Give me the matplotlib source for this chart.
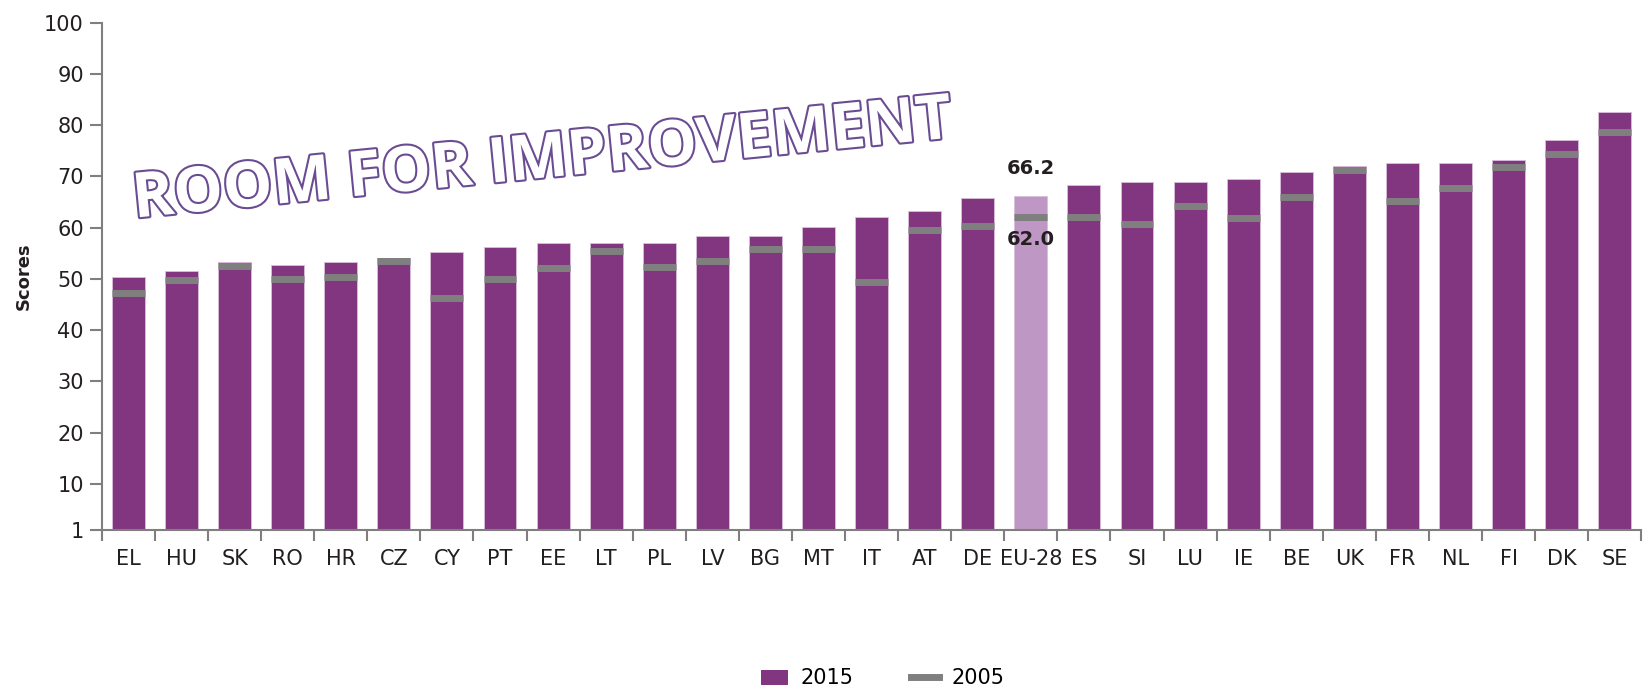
import matplotlib
matplotlib.use("Agg")
import matplotlib.pyplot as plt
import matplotlib.patheffects as pe
from matplotlib.lines import Line2D
from matplotlib.patches import Patch
import numpy as np

plt.rcParams['font.family'] = ['Liberation Sans Narrow', 'DejaVu Sans']

countries = ["EL", "HU", "SK", "RO", "HR", "CZ", "CY", "PT", "EE", "LT", "PL", "LV", "BG", "MT",
             "IT", "AT", "DE", "EU-28", "ES", "SI", "LU", "IE", "BE", "UK", "FR", "NL", "FI", "DK", "SE"]
score_2015 = [50.3, 51.6, 53.3, 52.7, 53.3, 54.0, 55.3, 56.3, 57.0, 57.1, 57.1, 58.3, 58.3, 60.1,
              62.0, 63.3, 65.8, 66.2, 68.3, 68.9, 68.9, 69.6, 70.8, 72.1, 72.7, 72.7, 73.3, 77.1, 82.6]
score_2005 = [47.2, 49.7, 52.6, 50.0, 50.3, 53.4, 46.2, 50.0, 52.2, 55.5, 52.4, 53.5, 55.9, 55.9,
              49.3, 59.6, 60.3, 62.0, 62.1, 60.8, 64.3, 61.8, 65.9, 71.2, 65.2, 67.7, 71.8, 74.4, 78.7]
yticks = [1, 10, 20, 30, 40, 50, 60, 70, 80, 90, 100]

purple = "#833680"
light = "#bf97c4"
gray = "#7f7f7f"
txt = "#231f20"

x = np.arange(len(countries))
w = 0.62
colors = [light if c == "EU-28" else purple for c in countries]

fig = plt.figure(figsize=(16.43, 6.90), dpi=100)
ax = fig.add_axes([0.062, 0.232, 0.937, 0.735])

ax.bar(x, np.array(score_2015) - 1, bottom=1, width=w, color=colors,
       edgecolor="#d9bfd9", linewidth=0.6, zorder=2)
ax.hlines(score_2005, x - w / 2, x + w / 2, colors=gray, linewidth=5, zorder=3)

eu = countries.index("EU-28")
ax.text(x[eu], score_2015[eu] + 3.5, f"{score_2015[eu]:.1f}", ha="center", va="bottom",
        fontsize=14, fontweight="bold", color=txt)
ax.text(x[eu], score_2005[eu] - 2.4, f"{score_2005[eu]:.1f}", ha="center", va="top",
        fontsize=14, fontweight="bold", color=txt)

ax.text(7.8, 73.0, "ROOM FOR IMPROVEMENT", ha="center", va="center", rotation=5.6,
        fontsize=45, fontweight="bold", color="white", family=["Open Sans", "DejaVu Sans"],
        path_effects=[pe.withStroke(linewidth=3, foreground="#6a4c93")], zorder=5)

ax.set_xlim(-0.5, len(countries) - 0.5)
ax.set_ylim(1, 100)
ax.set_yticks(yticks)
ax.set_yticklabels([str(v) for v in yticks], fontsize=15, color=txt)
ax.set_xticks(x)
ax.set_xticklabels(countries, fontsize=15, color=txt)
ax.set_xticks(np.arange(len(countries) + 1) - 0.5, minor=True)
ax.tick_params(axis="x", which="major", length=0, pad=14)
ax.tick_params(axis="x", which="minor", length=8, width=1.5, color=gray, direction="out")
ax.tick_params(axis="y", length=9, width=1.5, color=gray, direction="out", pad=4)
ax.set_ylabel("Scores", fontsize=13, fontweight="bold", color=txt, labelpad=8)

for s in ["top", "right"]:
    ax.spines[s].set_visible(False)
for s in ["left", "bottom"]:
    ax.spines[s].set_color(gray)
    ax.spines[s].set_linewidth(1.5)

handles = [Patch(facecolor=purple, label="2015"),
           Line2D([0], [0], color=gray, lw=5, label="2005")]
fig.legend(handles=handles, loc="lower center", bbox_to_anchor=(0.537, -0.025), ncol=2,
           frameon=False, fontsize=15, handlelength=1.3, columnspacing=2.8,
           handletextpad=0.6)

fig.savefig("out.png", dpi=100)
